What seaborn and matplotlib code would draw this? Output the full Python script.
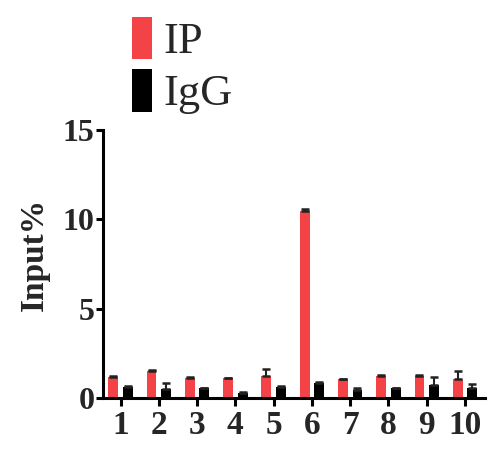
import matplotlib
matplotlib.use("Agg")
import matplotlib.pyplot as plt
import seaborn as sns
import pandas as pd
import numpy as np
from matplotlib.patches import Patch

categories = ["1", "2", "3", "4", "5", "6", "7", "8", "9", "10"]
ip_values = [1.18, 1.50, 1.10, 1.10, 1.24, 10.45, 1.05, 1.24, 1.20, 1.07]
ip_err = [0.07, 0.04, 0.05, 0.03, 0.36, 0.10, 0.03, 0.05, 0.10, 0.41]
igg_values = [0.60, 0.47, 0.53, 0.30, 0.62, 0.84, 0.43, 0.53, 0.70, 0.53]
igg_err = [0.05, 0.34, 0.04, 0.03, 0.04, 0.03, 0.15, 0.03, 0.45, 0.22]
groups = ["IP", "IgG"]
colors = ["#F44347", "#000000"]

sns.set_style("ticks")
plt.rcParams["font.family"] = ["Liberation Serif", "DejaVu Serif"]

df = pd.DataFrame({
    "cat": categories * 2,
    "val": ip_values + igg_values,
    "grp": [groups[0]] * len(categories) + [groups[1]] * len(categories),
})

fig = plt.figure(figsize=(5.02, 4.67), dpi=100)
ax = fig.add_axes([0.205, 0.148, 0.761, 0.574])

sns.barplot(data=df, x="cat", y="val", hue="grp", palette=colors,
            width=0.76, gap=0.32, errorbar=None, ax=ax, legend=False,
            linewidth=0, saturation=1)

# error bars (upper only), positioned at the seaborn bar centers
patches = ax.patches
n = len(categories)
for gi, (vals, errs) in enumerate([(ip_values, ip_err), (igg_values, igg_err)]):
    ps = patches[gi * n:(gi + 1) * n]
    xs = [p.get_x() + p.get_width() / 2 for p in ps]
    ax.errorbar(xs, vals, yerr=[np.zeros(n), errs], fmt="none",
                ecolor="#222222", elinewidth=1.5, capsize=2.6, capthick=1.8, zorder=3)

ax.set_ylim(0, 15)
ax.set_xlim(-0.46, 9.52)
ax.set_yticks([0, 5, 10, 15])
ax.set_xlabel("")
ax.set_ylabel("Input%", fontsize=24, fontweight="bold")
ax.yaxis.set_label_coords(-0.139, 0.535)
for lab in ax.get_xticklabels():
    lab.set_fontsize(24)
    lab.set_fontweight("bold")
for lab in ax.get_yticklabels():
    lab.set_fontsize(23)
    lab.set_fontweight("bold")
ax.tick_params(axis="x", width=2.2, length=6, color="black", pad=3)
ax.tick_params(axis="y", width=2.2, length=5, color="black", pad=1)
for s in ["left", "bottom"]:
    ax.spines[s].set_linewidth(2.2)
    ax.spines[s].set_color("black")
sns.despine(ax=ax)

handles = [Patch(facecolor=c, edgecolor="none") for c in colors]
fig.legend(handles, groups, loc="upper left", bbox_to_anchor=(0.263, 0.964),
           frameon=False, fontsize=32, handlelength=0.45, handleheight=1.1,
           handletextpad=0.25, labelspacing=0.15, borderpad=0, borderaxespad=0)

fig.savefig("out.png", dpi=100)
